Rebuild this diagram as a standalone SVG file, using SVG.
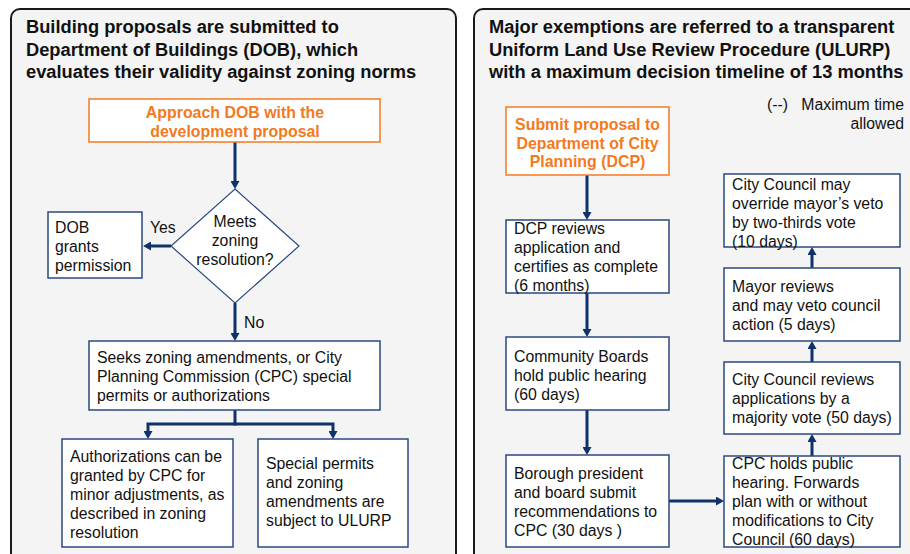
<svg xmlns="http://www.w3.org/2000/svg" width="910" height="554" viewBox="0 0 910 554">
<style>
.panel{fill:#f4f4f4;stroke:#1a1a1a;stroke-width:2}
.box{fill:#ffffff;stroke:#2a4a80;stroke-width:1.5}
.obox{fill:#ffffff;stroke:#f47920;stroke-width:1.5}
.title{font-family:"Liberation Sans",Arial,sans-serif;font-weight:bold;font-size:18.3px;fill:#111}
.t{font-family:"Liberation Sans",Arial,sans-serif;font-size:15.8px;fill:#111}
.ot{font-family:"Liberation Sans",Arial,sans-serif;font-weight:bold;font-size:15.9px;fill:#f47920;text-anchor:middle}
.c{text-anchor:middle}
.conn{fill:none;stroke:#0f326b;stroke-width:3}
</style>
<defs>
<marker id="ah" viewBox="0 0 8 9" refX="0" refY="4.5" markerWidth="8" markerHeight="9" markerUnits="userSpaceOnUse" orient="auto">
<path d="M0,0 L8,4.5 L0,9 Z" fill="#0f326b"/>
</marker>
</defs>
<rect width="910" height="554" fill="#ffffff"/>
<g id="panel-left">
<rect class="panel" x="11" y="9" width="445" height="570" rx="9"/>
<text class="title" x="26" y="33">Building proposals are submitted to</text>
<text class="title" x="26" y="55.5">Department of Buildings (DOB), which</text>
<text class="title" x="26" y="78">evaluates their validity against zoning norms</text>
</g>
<g id="panel-right">
<rect class="panel" x="474" y="9" width="460" height="570" rx="9"/>
<text class="title" x="489" y="33">Major exemptions are referred to a transparent</text>
<text class="title" x="489" y="55.5">Uniform Land Use Review Procedure (ULURP)</text>
<text class="title" x="489" y="78">with a maximum decision timeline of 13 months</text>
<text class="t" x="767" y="110">(--)</text>
<text class="t" x="904" y="110" text-anchor="end">Maximum time</text>
<text class="t" x="904" y="128.5" text-anchor="end">allowed</text>
</g>
<g id="connectors">
<path class="conn" d="M235,142 V181" marker-end="url(#ah)"/>
<path class="conn" d="M171,246 H151" marker-end="url(#ah)"/>
<path class="conn" d="M235,303 V333" marker-end="url(#ah)"/>
<path class="conn" d="M235,410 V424"/>
<path class="conn" d="M236.5,424 H148 V431" marker-end="url(#ah)"/>
<path class="conn" d="M233.5,424 H333 V431" marker-end="url(#ah)"/>
<path class="conn" d="M587,175 V212" marker-end="url(#ah)"/>
<path class="conn" d="M587,293 V329" marker-end="url(#ah)"/>
<path class="conn" d="M587,410 V447" marker-end="url(#ah)"/>
<path class="conn" d="M669,501 H716" marker-end="url(#ah)"/>
<path class="conn" d="M812,456 V442" marker-end="url(#ah)"/>
<path class="conn" d="M812,362 V349" marker-end="url(#ah)"/>
<path class="conn" d="M812,268 V255" marker-end="url(#ah)"/>
<text class="t" x="150" y="233">Yes</text>
<text class="t" x="244" y="328">No</text>
</g>
<g id="approach-dob">
<rect class="obox" x="89" y="99" width="291" height="43"/>
<text class="ot" x="235" y="118">Approach DOB with the</text>
<text class="ot" x="235" y="136.5">development proposal</text>
</g>
<g id="meets-zoning">
<polygon points="235,189 299,246 235,303 171,246" fill="#ffffff" stroke="#2a4a80" stroke-width="1.2"/>
<text class="t c" x="235" y="227" font-size="15">Meets</text>
<text class="t c" x="235" y="246" font-size="15">zoning</text>
<text class="t c" x="235" y="265" font-size="15">resolution?</text>
</g>
<g id="dob-grants">
<rect class="box" x="48" y="212" width="94" height="66"/>
<text class="t" x="55" y="233">DOB</text>
<text class="t" x="55" y="252">grants</text>
<text class="t" x="55" y="271">permission</text>
</g>
<g id="seeks-amendments">
<rect class="box" x="89" y="341" width="291" height="69"/>
<text class="t" x="97" y="362.5">Seeks zoning amendments, or City</text>
<text class="t" x="97" y="381.5">Planning Commission (CPC) special</text>
<text class="t" x="97" y="400.5">permits or authorizations</text>
</g>
<g id="authorizations">
<rect class="box" x="62" y="439" width="171" height="108"/>
<text class="t" x="70" y="462">Authorizations can be</text>
<text class="t" x="70" y="481">granted by CPC for</text>
<text class="t" x="70" y="500">minor adjustments, as</text>
<text class="t" x="70" y="519">described in zoning</text>
<text class="t" x="70" y="538">resolution</text>
</g>
<g id="special-permits">
<rect class="box" x="258" y="439" width="150" height="108"/>
<text class="t" x="266" y="469">Special permits</text>
<text class="t" x="266" y="488">and zoning</text>
<text class="t" x="266" y="507">amendments are</text>
<text class="t" x="266" y="526">subject to ULURP</text>
</g>
<g id="submit-dcp">
<rect class="obox" x="506" y="107" width="163" height="68"/>
<text class="ot" x="587.5" y="130">Submit proposal to</text>
<text class="ot" x="587.5" y="148.5">Department of City</text>
<text class="ot" x="587.5" y="167">Planning (DCP)</text>
</g>
<g id="dcp-reviews">
<rect class="box" x="506" y="220" width="163" height="73"/>
<text class="t" x="514" y="234">DCP reviews</text>
<text class="t" x="514" y="253">application and</text>
<text class="t" x="514" y="272">certifies as complete</text>
<text class="t" x="514" y="291">(6 months)</text>
</g>
<g id="community-boards">
<rect class="box" x="506" y="337" width="163" height="73"/>
<text class="t" x="514" y="362">Community Boards</text>
<text class="t" x="514" y="381">hold public hearing</text>
<text class="t" x="514" y="400">(60 days)</text>
</g>
<g id="borough-president">
<rect class="box" x="506" y="455" width="163" height="92"/>
<text class="t" x="514" y="479">Borough president</text>
<text class="t" x="514" y="498">and board submit</text>
<text class="t" x="514" y="517">recommendations to</text>
<text class="t" x="514" y="536">CPC (30 days )</text>
</g>
<g id="cpc-hearing">
<rect class="box" x="724" y="456" width="176" height="91"/>
<text class="t" x="732" y="469">CPC holds public</text>
<text class="t" x="732" y="488">hearing. Forwards</text>
<text class="t" x="732" y="507">plan with or without</text>
<text class="t" x="732" y="526">modifications to City</text>
<text class="t" x="732" y="545">Council (60 days)</text>
</g>
<g id="council-reviews">
<rect class="box" x="724" y="362" width="176" height="72"/>
<text class="t" x="732" y="385">City Council reviews</text>
<text class="t" x="732" y="404">applications by a</text>
<text class="t" x="732" y="423">majority vote (50 days)</text>
</g>
<g id="mayor-reviews">
<rect class="box" x="724" y="268" width="176" height="73"/>
<text class="t" x="732" y="292">Mayor reviews</text>
<text class="t" x="732" y="311">and may veto council</text>
<text class="t" x="732" y="330">action (5 days)</text>
</g>
<g id="council-override">
<rect class="box" x="724" y="174" width="176" height="73"/>
<text class="t" x="732" y="190">City Council may</text>
<text class="t" x="732" y="209">override mayor’s veto</text>
<text class="t" x="732" y="228">by two-thirds vote</text>
<text class="t" x="732" y="247">(10 days)</text>
</g>
</svg>
